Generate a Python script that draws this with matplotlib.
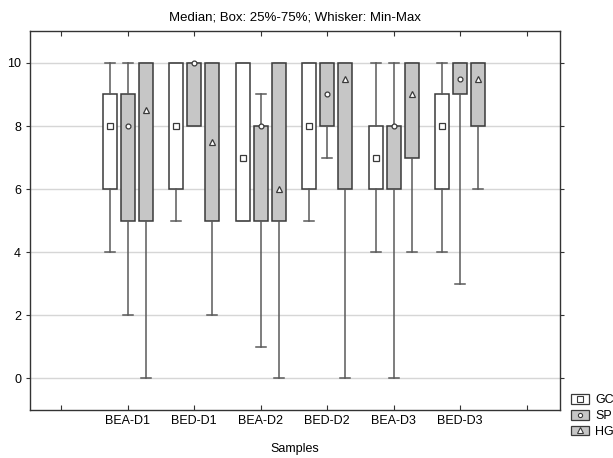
import matplotlib.pyplot as plt
from matplotlib.patches import Patch
from matplotlib.lines import Line2D

plt.rcParams['font.family'] = ['Liberation Sans', 'DejaVu Sans']

# data
samples = ['BEA-D1', 'BED-D1', 'BEA-D2', 'BED-D2', 'BEA-D3', 'BED-D3']

gc_med = [8, 8, 7, 8, 7, 8]
gc_q1 = [6, 6, 5, 6, 6, 6]
gc_q3 = [9, 10, 10, 10, 8, 9]
gc_min = [4, 5, 5, 5, 4, 4]
gc_max = [10, 10, 10, 10, 10, 10]

sp_med = [8, 10, 8, 9, 8, 9.5]
sp_q1 = [5, 8, 5, 8, 6, 9]
sp_q3 = [9, 10, 8, 10, 8, 10]
sp_min = [2, 8, 1, 7, 0, 3]
sp_max = [10, 10, 9, 10, 10, 10]

hg_med = [8.5, 7.5, 6, 9.5, 9, 9.5]
hg_q1 = [5, 5, 5, 6, 7, 8]
hg_q3 = [10, 10, 10, 10, 10, 10]
hg_min = [0, 2, 0, 0, 4, 6]
hg_max = [10, 10, 10, 10, 10, 10]

series = [
    ('GC', gc_med, gc_q1, gc_q3, gc_min, gc_max, 'white', 's', 4.5),
    ('SP', sp_med, sp_q1, sp_q3, sp_min, sp_max, '#c6c6c6', 'o', 3.5),
    ('HG', hg_med, hg_q1, hg_q3, hg_min, hg_max, '#c6c6c6', '^', 4.5),
]

fig = plt.figure(figsize=(6.13, 4.58), dpi=100)
ax = fig.add_axes([0.049, 0.105, 0.8645, 0.8265])

edge = '#3a3a3a'
wcol = '#5a5a5a'
offsets = [-0.27, 0.0, 0.27]
handles = []

for k, (name, med, q1, q3, lo, hi, fc, mk, ms) in enumerate(series):
    stats = []
    for i in range(len(samples)):
        stats.append({'med': med[i], 'q1': q1[i], 'q3': q3[i],
                      'whislo': lo[i], 'whishi': hi[i], 'mean': med[i]})
    pos = [i + 1 + offsets[k] for i in range(len(samples))]
    ax.bxp(stats, positions=pos, widths=0.21, capwidths=0.15,
           patch_artist=True, showfliers=False, showmeans=True,
           boxprops=dict(facecolor=fc, edgecolor=edge, linewidth=1.1),
           whiskerprops=dict(color=wcol, linewidth=1.1),
           capprops=dict(color=wcol, linewidth=1.1),
           medianprops=dict(linewidth=0),
           meanprops=dict(marker=mk, markerfacecolor='white',
                          markeredgecolor=edge, markersize=ms,
                          markeredgewidth=0.9),
           manage_ticks=False, zorder=3)
    handles.append((Patch(facecolor=fc, edgecolor=edge, linewidth=0.9),
                    Line2D([], [], ls='', marker=mk, markerfacecolor='white',
                           markeredgecolor=edge, markersize=ms - 0.5,
                           markeredgewidth=0.8)))

# axes look
ax.set_xlim(-0.47, 7.5)
ax.set_ylim(-1, 11)
ax.set_xticks(range(8))
ax.set_xticklabels([''] + samples + [''], fontsize=9)
ax.set_yticks([0, 2, 4, 6, 8, 10])
ax.set_yticklabels(['0', '2', '4', '6', '8', '10'], fontsize=9)
ax.tick_params(axis='x', direction='in', top=True, length=3.5, color='#333333')
ax.tick_params(axis='y', direction='out', right=True, length=3, color='#333333')
ax.yaxis.grid(True, color='#d6d6d6', linewidth=1.0)
ax.set_axisbelow(True)
for s in ax.spines.values():
    s.set_color('#333333')
    s.set_linewidth(1.0)

ax.set_title('Median; Box: 25%-75%; Whisker: Min-Max', fontsize=9.5, pad=8)
ax.set_xlabel('Samples', fontsize=9, labelpad=12)

fig.legend(handles, ['GC', 'SP', 'HG'], loc='upper left',
           bbox_to_anchor=(0.922, 0.153), frameon=False, fontsize=9,
           handlelength=1.4, handleheight=0.8, handletextpad=0.5,
           labelspacing=0.3, borderpad=0)

plt.savefig('out.png', dpi=100)
